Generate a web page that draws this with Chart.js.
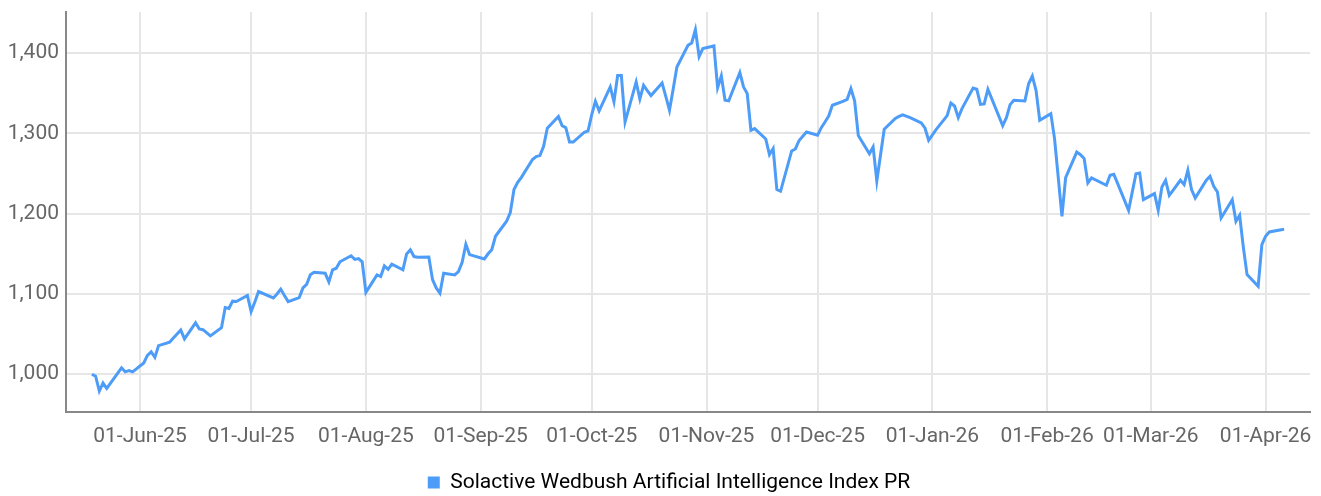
<!DOCTYPE html>
<html lang="en">
<head>
    <meta charset="UTF-8">
    <title>Solactive Wedbush Artificial Intelligence Index PR</title>
    <script src="https://cdn.jsdelivr.net/npm/chart.js"></script>
    <style>
        body {
            margin: 0;
            background-color: #fff;
        }
        .chart-box {
            width: 1321px;
            height: 496px;
            position: relative;
        }
    </style>
</head>
<body>

    <div class="chart-box">
        <canvas id="indexChart"></canvas>
    </div>

    <script>
        const seriesName = 'Solactive Wedbush Artificial Intelligence Index PR';

        // trading days
        const dates = [
            '2025-05-19', '2025-05-20', '2025-05-21', '2025-05-22', '2025-05-23', '2025-05-27', '2025-05-28', '2025-05-29', '2025-05-30',
            '2025-06-02', '2025-06-03', '2025-06-04', '2025-06-05', '2025-06-06', '2025-06-09', '2025-06-10', '2025-06-11', '2025-06-12', '2025-06-13',
            '2025-06-16', '2025-06-17', '2025-06-18', '2025-06-20', '2025-06-23', '2025-06-24', '2025-06-25', '2025-06-26', '2025-06-27', '2025-06-30',
            '2025-07-01', '2025-07-02', '2025-07-03', '2025-07-07', '2025-07-08', '2025-07-09', '2025-07-10', '2025-07-11',
            '2025-07-14', '2025-07-15', '2025-07-16', '2025-07-17', '2025-07-18', '2025-07-21', '2025-07-22', '2025-07-23', '2025-07-24', '2025-07-25',
            '2025-07-28', '2025-07-29', '2025-07-30', '2025-07-31', '2025-08-01',
            '2025-08-04', '2025-08-05', '2025-08-06', '2025-08-07', '2025-08-08', '2025-08-11', '2025-08-12', '2025-08-13', '2025-08-14', '2025-08-15',
            '2025-08-18', '2025-08-19', '2025-08-20', '2025-08-21', '2025-08-22', '2025-08-25', '2025-08-26', '2025-08-27', '2025-08-28', '2025-08-29',
            '2025-09-02', '2025-09-03', '2025-09-04', '2025-09-05', '2025-09-08', '2025-09-09', '2025-09-10', '2025-09-11', '2025-09-12',
            '2025-09-15', '2025-09-16', '2025-09-17', '2025-09-18', '2025-09-19', '2025-09-22', '2025-09-23', '2025-09-24', '2025-09-25', '2025-09-26',
            '2025-09-29', '2025-09-30', '2025-10-01', '2025-10-02', '2025-10-03', '2025-10-06', '2025-10-07', '2025-10-08', '2025-10-09', '2025-10-10',
            '2025-10-13', '2025-10-14', '2025-10-15', '2025-10-16', '2025-10-17', '2025-10-20', '2025-10-21', '2025-10-22', '2025-10-23', '2025-10-24',
            '2025-10-27', '2025-10-28', '2025-10-29', '2025-10-30', '2025-10-31', '2025-11-03', '2025-11-04', '2025-11-05', '2025-11-06', '2025-11-07',
            '2025-11-10', '2025-11-11', '2025-11-12', '2025-11-13', '2025-11-14', '2025-11-17', '2025-11-18', '2025-11-19', '2025-11-20', '2025-11-21',
            '2025-11-24', '2025-11-25', '2025-11-26', '2025-11-28', '2025-12-01', '2025-12-02', '2025-12-03', '2025-12-04', '2025-12-05',
            '2025-12-08', '2025-12-09', '2025-12-10', '2025-12-11', '2025-12-12', '2025-12-15', '2025-12-16', '2025-12-17', '2025-12-18', '2025-12-19',
            '2025-12-22', '2025-12-23', '2025-12-24', '2025-12-26', '2025-12-29', '2025-12-30', '2025-12-31', '2026-01-02',
            '2026-01-05', '2026-01-06', '2026-01-07', '2026-01-08', '2026-01-09', '2026-01-12', '2026-01-13', '2026-01-14', '2026-01-15', '2026-01-16',
            '2026-01-20', '2026-01-21', '2026-01-22', '2026-01-23', '2026-01-26', '2026-01-27', '2026-01-28', '2026-01-29', '2026-01-30',
            '2026-02-02', '2026-02-03', '2026-02-04', '2026-02-05', '2026-02-06', '2026-02-09', '2026-02-10', '2026-02-11', '2026-02-12', '2026-02-13',
            '2026-02-17', '2026-02-18', '2026-02-19', '2026-02-20', '2026-02-23', '2026-02-24', '2026-02-25', '2026-02-26', '2026-02-27',
            '2026-03-02', '2026-03-03', '2026-03-04', '2026-03-05', '2026-03-06', '2026-03-09', '2026-03-10', '2026-03-11', '2026-03-12', '2026-03-13',
            '2026-03-16', '2026-03-17', '2026-03-18', '2026-03-19', '2026-03-20', '2026-03-23', '2026-03-24', '2026-03-25', '2026-03-26', '2026-03-27',
            '2026-03-30', '2026-03-31', '2026-04-01', '2026-04-02', '2026-04-06'
        ];

        const values = [
            1000, 997.5, 979, 989, 982.5, 1008, 1003, 1004.5, 1003,
            1014, 1023.6, 1028, 1021, 1035.7, 1040, 1045, 1050, 1055, 1044,
            1064, 1056.4, 1055.5, 1047.7, 1058, 1083, 1081.8, 1091, 1090.5, 1098,
            1078, 1090, 1103, 1095, 1100, 1106, 1098, 1090.5,
            1095.5, 1107.5, 1112, 1124, 1127, 1125.7, 1115, 1130, 1132, 1140,
            1147.5, 1143, 1144, 1140, 1102,
            1123.6, 1121.6, 1134.8, 1130.7, 1137, 1130, 1149.8, 1155, 1146.5, 1145.6,
            1146, 1117.8, 1107.5, 1101, 1125.7, 1123.6, 1127.8, 1139.5, 1161.8, 1149,
            1143.5, 1150, 1155, 1171.8, 1190.5, 1201.3, 1229.9, 1239, 1245.2,
            1267.3, 1271, 1272.2, 1283.8, 1306.2, 1320.8, 1309.6, 1307, 1289, 1289,
            1301.3, 1302.9, 1323.3, 1339.8, 1327.8, 1357.7, 1339.4, 1371.8, 1371.8, 1314,
            1363.9, 1342.7, 1359.8, 1353, 1347, 1362.6, 1346, 1328.6, 1355, 1382.5,
            1409.6, 1412.5, 1429, 1395.5, 1405.4, 1408.7, 1356.9, 1371.4, 1341.1, 1340.3,
            1375.6, 1357.7, 1349.4, 1303.7, 1305.8, 1292.9, 1273.5, 1281, 1229.9, 1227.8,
            1278, 1280.5, 1291, 1301.6, 1297.5, 1307, 1314, 1321.5, 1334.9,
            1340, 1342.3, 1355.7, 1340.3, 1297.1, 1274.6, 1283, 1240.6, 1273, 1305,
            1318.5, 1321, 1323, 1319.5, 1313, 1306.6, 1291.3, 1304.6,
            1322, 1337.7, 1334, 1319.5, 1330.7, 1356.4, 1354.8, 1336.1, 1336.5, 1354.8,
            1309.5, 1319.5, 1335.7, 1341.1, 1340.3, 1361.6, 1371.3, 1353.5, 1316.2,
            1324.5, 1293.4, 1245, 1196.7, 1244.8, 1276.6, 1273.4, 1268.5, 1238.1, 1244.4,
            1235.3, 1247.7, 1249, 1238, 1204.2, 1227, 1249.7, 1250.6, 1217.4,
            1224.9, 1204.2, 1233.2, 1241.5, 1222.8, 1241.5, 1236.1, 1253.9, 1229.9, 1219.5,
            1241.5, 1246.5, 1234, 1227, 1194.6, 1217.4, 1190.5, 1198, 1158, 1124,
            1109.5, 1161.4, 1171.8, 1177.1, 1180.5
        ];

        const tickDates = ['2025-06-01', '2025-07-01', '2025-08-01', '2025-09-01', '2025-10-01', '2025-11-01',
                           '2025-12-01', '2026-01-01', '2026-02-01', '2026-03-01', '2026-04-01'];
        const tickLabels = ['01-Jun-25', '01-Jul-25', '01-Aug-25', '01-Sep-25', '01-Oct-25', '01-Nov-25',
                            '01-Dec-25', '01-Jan-26', '01-Feb-26', '01-Mar-26', '01-Apr-26'];
        const yTicks = [1000, 1100, 1200, 1300, 1400];

        // days counted from 1 Jun 2025, so a linear axis can stand in for a time axis
        const base = Date.UTC(2025, 5, 1);
        function dayOf(s) {
            const p = s.split('-');
            return (Date.UTC(+p[0], +p[1] - 1, +p[2]) - base) / 86400000;
        }

        const lineColor = '#4d9cf7';
        const labelFont = { family: "Roboto, 'DejaVu Sans Condensed', sans-serif", size: 21 };

        // nudge the legend to where the original puts it
        const legendShift = {
            id: 'legendShift',
            afterLayout(chart) {
                const lg = chart.legend;
                lg.left += 14;
                lg.right += 14;
                lg.top += 7;
                lg.bottom += 7;
            }
        };

        document.addEventListener('DOMContentLoaded', function () {
            const ctx = document.getElementById('indexChart').getContext('2d');
            new Chart(ctx, {
                type: 'line',
                data: {
                    datasets: [{
                        label: seriesName,
                        data: dates.map((d, i) => ({ x: dayOf(d), y: values[i] })),
                        borderColor: lineColor,
                        backgroundColor: lineColor,
                        borderWidth: 3,
                        pointRadius: 0,
                        tension: 0,
                        fill: false
                    }]
                },
                plugins: [legendShift],
                options: {
                    responsive: true,
                    maintainAspectRatio: false,
                    animation: false,
                    layout: { padding: { top: 12, right: 11, left: 0, bottom: 0 } },
                    plugins: {
                        tooltip: { enabled: false },
                        legend: {
                            position: 'bottom',
                            labels: {
                                boxWidth: 12,
                                boxHeight: 12,
                                padding: 10,
                                color: '#666',
                                font: { family: labelFont.family, size: 21 },
                                generateLabels: chart => [{
                                    text: seriesName,
                                    fillStyle: lineColor,
                                    strokeStyle: lineColor,
                                    lineWidth: 0,
                                    datasetIndex: 0
                                }]
                            }
                        }
                    },
                    scales: {
                        x: {
                            type: 'linear',
                            min: -20,
                            max: 316,
                            afterBuildTicks: scale => {
                                scale.ticks = tickDates.map(d => ({ value: dayOf(d) }));
                            },
                            afterFit: scale => {
                                scale.height = 43;
                                scale.paddingLeft = 0;
                                scale.paddingRight = 0;
                            },
                            ticks: {
                                autoSkip: false,
                                maxRotation: 0,
                                padding: 12,
                                color: '#666',
                                font: labelFont,
                                callback: (v, i) => tickLabels[i]
                            },
                            grid: { color: '#e6e6e6', lineWidth: 2, drawTicks: false },
                            border: { color: '#888', width: 2 }
                        },
                        y: {
                            min: 953,
                            max: 1451,
                            afterBuildTicks: scale => {
                                scale.ticks = yTicks.map(v => ({ value: v }));
                            },
                            afterFit: scale => {
                                scale.width = 66;
                                scale.paddingTop = 0;
                                scale.paddingBottom = 0;
                            },
                            ticks: {
                                padding: 7,
                                color: '#666',
                                font: labelFont
                            },
                            grid: { color: '#e6e6e6', lineWidth: 2, drawTicks: false },
                            border: { color: '#888', width: 2 }
                        }
                    }
                }
            });
        });
    </script>

</body>
</html>
